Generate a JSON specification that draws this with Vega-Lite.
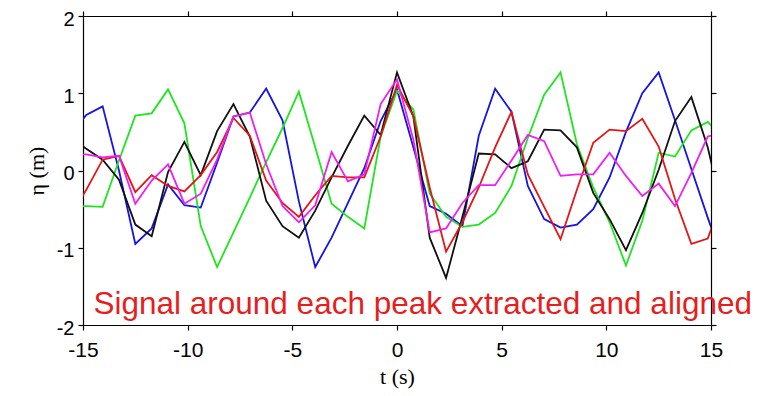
{
  "$schema": "https://vega.github.io/schema/vega-lite/v6.json",
  "width": 628,
  "height": 309,
  "autosize": {"type": "none"},
  "padding": {"left": 83, "top": 16, "right": 54, "bottom": 71},
  "background": "white",
  "config": {
    "view": {"stroke": null},
    "axis": {
      "grid": false,
      "domain": true,
      "ticks": true,
      "domainColor": "#000000",
      "domainWidth": 1.2,
      "tickColor": "#000000",
      "tickWidth": 1.2,
      "tickSize": 5,
      "labelFlush": false,
      "labelFont": "Liberation Sans",
      "labelFontSize": 20,
      "labelColor": "#000000",
      "titleFont": "Liberation Serif",
      "titleFontSize": 22,
      "titleFontWeight": "normal",
      "titleColor": "#000000"
    }
  },
  "data": {
    "values": [
      {"t": -15.625, "eta": 0.45, "s": "blue"}, {"t": -14.84375, "eta": 0.72, "s": "blue"}, {"t": -14.0625, "eta": 0.83, "s": "blue"}, {"t": -13.28125, "eta": 0.0, "s": "blue"}, {"t": -12.5, "eta": -0.95, "s": "blue"}, {"t": -11.71875, "eta": -0.75, "s": "blue"}, {"t": -10.9375, "eta": -0.18, "s": "blue"}, {"t": -10.15625, "eta": -0.45, "s": "blue"}, {"t": -9.375, "eta": -0.48, "s": "blue"}, {"t": -8.59375, "eta": 0.1, "s": "blue"}, {"t": -7.8125, "eta": 0.7, "s": "blue"}, {"t": -7.03125, "eta": 0.75, "s": "blue"}, {"t": -6.25, "eta": 1.06, "s": "blue"}, {"t": -5.46875, "eta": 0.65, "s": "blue"}, {"t": -4.6875, "eta": -0.4, "s": "blue"}, {"t": -3.90625, "eta": -1.25, "s": "blue"}, {"t": -3.125, "eta": -0.87, "s": "blue"}, {"t": -2.34375, "eta": -0.42, "s": "blue"}, {"t": -1.5625, "eta": 0.03, "s": "blue"}, {"t": -0.78125, "eta": 0.64, "s": "blue"}, {"t": 0, "eta": 1.05, "s": "blue"}, {"t": 0.78125, "eta": 0.3, "s": "blue"}, {"t": 1.5625, "eta": -0.46, "s": "blue"}, {"t": 2.34375, "eta": -0.56, "s": "blue"}, {"t": 3.125, "eta": -0.72, "s": "blue"}, {"t": 3.90625, "eta": 0.45, "s": "blue"}, {"t": 4.6875, "eta": 1.06, "s": "blue"}, {"t": 5.46875, "eta": 0.76, "s": "blue"}, {"t": 6.25, "eta": -0.2, "s": "blue"}, {"t": 7.03125, "eta": -0.63, "s": "blue"}, {"t": 7.8125, "eta": -0.74, "s": "blue"}, {"t": 8.59375, "eta": -0.7, "s": "blue"}, {"t": 9.375, "eta": -0.5, "s": "blue"}, {"t": 10.15625, "eta": -0.09, "s": "blue"}, {"t": 10.9375, "eta": 0.5, "s": "blue"}, {"t": 11.71875, "eta": 1.0, "s": "blue"}, {"t": 12.5, "eta": 1.27, "s": "blue"}, {"t": 13.28125, "eta": 0.65, "s": "blue"}, {"t": 14.0625, "eta": 0.02, "s": "blue"}, {"t": 14.84375, "eta": -0.61, "s": "blue"}, {"t": 15.625, "eta": -1.2, "s": "blue"},
      {"t": -15.625, "eta": -0.46, "s": "green"}, {"t": -14.84375, "eta": -0.46, "s": "green"}, {"t": -14.0625, "eta": -0.47, "s": "green"}, {"t": -13.28125, "eta": 0.13, "s": "green"}, {"t": -12.5, "eta": 0.71, "s": "green"}, {"t": -11.71875, "eta": 0.74, "s": "green"}, {"t": -10.9375, "eta": 1.05, "s": "green"}, {"t": -10.15625, "eta": 0.61, "s": "green"}, {"t": -9.375, "eta": -0.72, "s": "green"}, {"t": -8.59375, "eta": -1.25, "s": "green"}, {"t": -7.8125, "eta": -0.8, "s": "green"}, {"t": -7.03125, "eta": -0.35, "s": "green"}, {"t": -6.25, "eta": 0.11, "s": "green"}, {"t": -5.46875, "eta": 0.55, "s": "green"}, {"t": -4.6875, "eta": 1.02, "s": "green"}, {"t": -3.90625, "eta": 0.3, "s": "green"}, {"t": -3.125, "eta": -0.43, "s": "green"}, {"t": -2.34375, "eta": -0.6, "s": "green"}, {"t": -1.5625, "eta": -0.75, "s": "green"}, {"t": -0.78125, "eta": 0.44, "s": "green"}, {"t": 0, "eta": 1.03, "s": "green"}, {"t": 0.78125, "eta": 0.79, "s": "green"}, {"t": 1.5625, "eta": -0.3, "s": "green"}, {"t": 2.34375, "eta": -0.6, "s": "green"}, {"t": 3.125, "eta": -0.73, "s": "green"}, {"t": 3.90625, "eta": -0.7, "s": "green"}, {"t": 4.6875, "eta": -0.55, "s": "green"}, {"t": 5.46875, "eta": -0.2, "s": "green"}, {"t": 6.25, "eta": 0.42, "s": "green"}, {"t": 7.03125, "eta": 0.98, "s": "green"}, {"t": 7.8125, "eta": 1.27, "s": "green"}, {"t": 8.59375, "eta": 0.34, "s": "green"}, {"t": 9.375, "eta": -0.22, "s": "green"}, {"t": 10.15625, "eta": -0.67, "s": "green"}, {"t": 10.9375, "eta": -1.23, "s": "green"}, {"t": 11.71875, "eta": -0.65, "s": "green"}, {"t": 12.5, "eta": 0.23, "s": "green"}, {"t": 13.28125, "eta": 0.18, "s": "green"}, {"t": 14.0625, "eta": 0.52, "s": "green"}, {"t": 14.84375, "eta": 0.63, "s": "green"}, {"t": 15.625, "eta": 0.4, "s": "green"},
      {"t": -15.625, "eta": 0.45, "s": "black"}, {"t": -14.84375, "eta": 0.28, "s": "black"}, {"t": -14.0625, "eta": 0.14, "s": "black"}, {"t": -13.28125, "eta": -0.12, "s": "black"}, {"t": -12.5, "eta": -0.7, "s": "black"}, {"t": -11.71875, "eta": -0.85, "s": "black"}, {"t": -10.9375, "eta": -0.02, "s": "black"}, {"t": -10.15625, "eta": 0.37, "s": "black"}, {"t": -9.375, "eta": -0.06, "s": "black"}, {"t": -8.59375, "eta": 0.51, "s": "black"}, {"t": -7.8125, "eta": 0.86, "s": "black"}, {"t": -7.03125, "eta": 0.44, "s": "black"}, {"t": -6.25, "eta": -0.39, "s": "black"}, {"t": -5.46875, "eta": -0.72, "s": "black"}, {"t": -4.6875, "eta": -0.87, "s": "black"}, {"t": -3.90625, "eta": -0.52, "s": "black"}, {"t": -3.125, "eta": -0.09, "s": "black"}, {"t": -2.34375, "eta": 0.32, "s": "black"}, {"t": -1.5625, "eta": 0.71, "s": "black"}, {"t": -0.78125, "eta": 0.46, "s": "black"}, {"t": 0, "eta": 1.27, "s": "black"}, {"t": 0.78125, "eta": 0.7, "s": "black"}, {"t": 1.5625, "eta": -0.87, "s": "black"}, {"t": 2.34375, "eta": -1.39, "s": "black"}, {"t": 3.125, "eta": -0.6, "s": "black"}, {"t": 3.90625, "eta": 0.22, "s": "black"}, {"t": 4.6875, "eta": 0.21, "s": "black"}, {"t": 5.46875, "eta": 0.03, "s": "black"}, {"t": 6.25, "eta": 0.12, "s": "black"}, {"t": 7.03125, "eta": 0.53, "s": "black"}, {"t": 7.8125, "eta": 0.52, "s": "black"}, {"t": 8.59375, "eta": 0.3, "s": "black"}, {"t": 9.375, "eta": -0.29, "s": "black"}, {"t": 10.15625, "eta": -0.63, "s": "black"}, {"t": 10.9375, "eta": -1.03, "s": "black"}, {"t": 11.71875, "eta": -0.55, "s": "black"}, {"t": 12.5, "eta": 0.01, "s": "black"}, {"t": 13.28125, "eta": 0.64, "s": "black"}, {"t": 14.0625, "eta": 0.95, "s": "black"}, {"t": 14.84375, "eta": 0.3, "s": "black"}, {"t": 15.625, "eta": -0.6, "s": "black"},
      {"t": -15.625, "eta": -0.6, "s": "red"}, {"t": -14.84375, "eta": -0.25, "s": "red"}, {"t": -14.0625, "eta": 0.14, "s": "red"}, {"t": -13.28125, "eta": 0.19, "s": "red"}, {"t": -12.5, "eta": -0.28, "s": "red"}, {"t": -11.71875, "eta": -0.06, "s": "red"}, {"t": -10.9375, "eta": -0.2, "s": "red"}, {"t": -10.15625, "eta": -0.27, "s": "red"}, {"t": -9.375, "eta": -0.06, "s": "red"}, {"t": -8.59375, "eta": 0.24, "s": "red"}, {"t": -7.8125, "eta": 0.68, "s": "red"}, {"t": -7.03125, "eta": 0.45, "s": "red"}, {"t": -6.25, "eta": -0.13, "s": "red"}, {"t": -5.46875, "eta": -0.42, "s": "red"}, {"t": -4.6875, "eta": -0.6, "s": "red"}, {"t": -3.90625, "eta": -0.32, "s": "red"}, {"t": -3.125, "eta": -0.07, "s": "red"}, {"t": -2.34375, "eta": -0.09, "s": "red"}, {"t": -1.5625, "eta": -0.09, "s": "red"}, {"t": -0.78125, "eta": 0.44, "s": "red"}, {"t": 0, "eta": 1.11, "s": "red"}, {"t": 0.78125, "eta": 0.7, "s": "red"}, {"t": 1.5625, "eta": -0.22, "s": "red"}, {"t": 2.34375, "eta": -1.05, "s": "red"}, {"t": 3.125, "eta": -0.67, "s": "red"}, {"t": 3.90625, "eta": -0.22, "s": "red"}, {"t": 4.6875, "eta": 0.3, "s": "red"}, {"t": 5.46875, "eta": 0.76, "s": "red"}, {"t": 6.25, "eta": -0.05, "s": "red"}, {"t": 7.03125, "eta": -0.47, "s": "red"}, {"t": 7.8125, "eta": -0.89, "s": "red"}, {"t": 8.59375, "eta": -0.25, "s": "red"}, {"t": 9.375, "eta": 0.36, "s": "red"}, {"t": 10.15625, "eta": 0.53, "s": "red"}, {"t": 10.9375, "eta": 0.51, "s": "red"}, {"t": 11.71875, "eta": 0.67, "s": "red"}, {"t": 12.5, "eta": 0.31, "s": "red"}, {"t": 13.28125, "eta": -0.37, "s": "red"}, {"t": 14.0625, "eta": -0.95, "s": "red"}, {"t": 14.84375, "eta": -0.88, "s": "red"}, {"t": 15.625, "eta": -0.3, "s": "red"},
      {"t": -15.625, "eta": 0.21, "s": "magenta"}, {"t": -14.84375, "eta": 0.21, "s": "magenta"}, {"t": -14.0625, "eta": 0.17, "s": "magenta"}, {"t": -13.28125, "eta": 0.19, "s": "magenta"}, {"t": -12.5, "eta": -0.43, "s": "magenta"}, {"t": -11.71875, "eta": -0.13, "s": "magenta"}, {"t": -10.9375, "eta": 0.08, "s": "magenta"}, {"t": -10.15625, "eta": -0.43, "s": "magenta"}, {"t": -9.375, "eta": -0.3, "s": "magenta"}, {"t": -8.59375, "eta": 0.14, "s": "magenta"}, {"t": -7.8125, "eta": 0.7, "s": "magenta"}, {"t": -7.03125, "eta": 0.75, "s": "magenta"}, {"t": -6.25, "eta": 0.08, "s": "magenta"}, {"t": -5.46875, "eta": -0.46, "s": "magenta"}, {"t": -4.6875, "eta": -0.67, "s": "magenta"}, {"t": -3.90625, "eta": -0.45, "s": "magenta"}, {"t": -3.125, "eta": 0.24, "s": "magenta"}, {"t": -2.34375, "eta": -0.14, "s": "magenta"}, {"t": -1.5625, "eta": -0.05, "s": "magenta"}, {"t": -0.78125, "eta": 0.86, "s": "magenta"}, {"t": 0, "eta": 1.18, "s": "magenta"}, {"t": 0.78125, "eta": 0.4, "s": "magenta"}, {"t": 1.5625, "eta": -0.8, "s": "magenta"}, {"t": 2.34375, "eta": -0.75, "s": "magenta"}, {"t": 3.125, "eta": -0.42, "s": "magenta"}, {"t": 3.90625, "eta": -0.19, "s": "magenta"}, {"t": 4.6875, "eta": -0.19, "s": "magenta"}, {"t": 5.46875, "eta": 0.13, "s": "magenta"}, {"t": 6.25, "eta": 0.46, "s": "magenta"}, {"t": 7.03125, "eta": 0.38, "s": "magenta"}, {"t": 7.8125, "eta": -0.07, "s": "magenta"}, {"t": 8.59375, "eta": -0.05, "s": "magenta"}, {"t": 9.375, "eta": -0.05, "s": "magenta"}, {"t": 10.15625, "eta": 0.23, "s": "magenta"}, {"t": 10.9375, "eta": -0.07, "s": "magenta"}, {"t": 11.71875, "eta": -0.33, "s": "magenta"}, {"t": 12.5, "eta": -0.17, "s": "magenta"}, {"t": 13.28125, "eta": -0.46, "s": "magenta"}, {"t": 14.0625, "eta": -0.03, "s": "magenta"}, {"t": 14.84375, "eta": 0.44, "s": "magenta"}, {"t": 15.625, "eta": 0.5, "s": "magenta"}
    ]
  },
  "layer": [
    {
      "mark": {"type": "line", "clip": true, "strokeWidth": 1.8},
      "encoding": {
        "x": {
          "field": "t", "type": "quantitative",
          "scale": {"domain": [-15, 15], "nice": false, "zero": false},
          "axis": {"orient": "bottom", "values": [-15, -10, -5, 0, 5, 10, 15], "labelExpr": "'' + datum.value", "labelFontSize": 21, "labelPadding": 9, "title": "t (s)", "titlePadding": 6}
        },
        "y": {
          "field": "eta", "type": "quantitative",
          "scale": {"domain": [-2, 2], "nice": false, "zero": false},
          "axis": {"orient": "left", "values": [-2, -1, 0, 1, 2], "labelExpr": "'' + datum.value", "labelPadding": 4, "labelOffset": 3, "title": "η (m)", "titlePadding": 8}
        },
        "color": {
          "field": "s", "type": "nominal",
          "scale": {"domain": ["blue", "green", "black", "red", "magenta"], "range": ["#1414e6", "#1ee61e", "#111111", "#e61414", "#f01ef0"]},
          "legend": null
        }
      }
    },
    {
      "data": {"values": [{"t": -14.5, "eta": -1.86, "label": "Signal around each peak extracted and aligned"}]},
      "mark": {"type": "text", "align": "left", "baseline": "alphabetic", "fontSize": 31.5, "font": "Liberation Sans", "color": "#e61e1e"},
      "encoding": {
        "x": {"field": "t", "type": "quantitative", "axis": {"orient": "top", "values": [-15, -10, -5, 0, 5, 10, 15], "labels": false, "title": null}},
        "y": {"field": "eta", "type": "quantitative", "axis": {"orient": "right", "values": [-2, -1, 0, 1, 2], "labels": false, "title": null}},
        "text": {"field": "label"}
      }
    }
  ],
  "resolve": {"axis": {"x": "independent", "y": "independent"}}
}
